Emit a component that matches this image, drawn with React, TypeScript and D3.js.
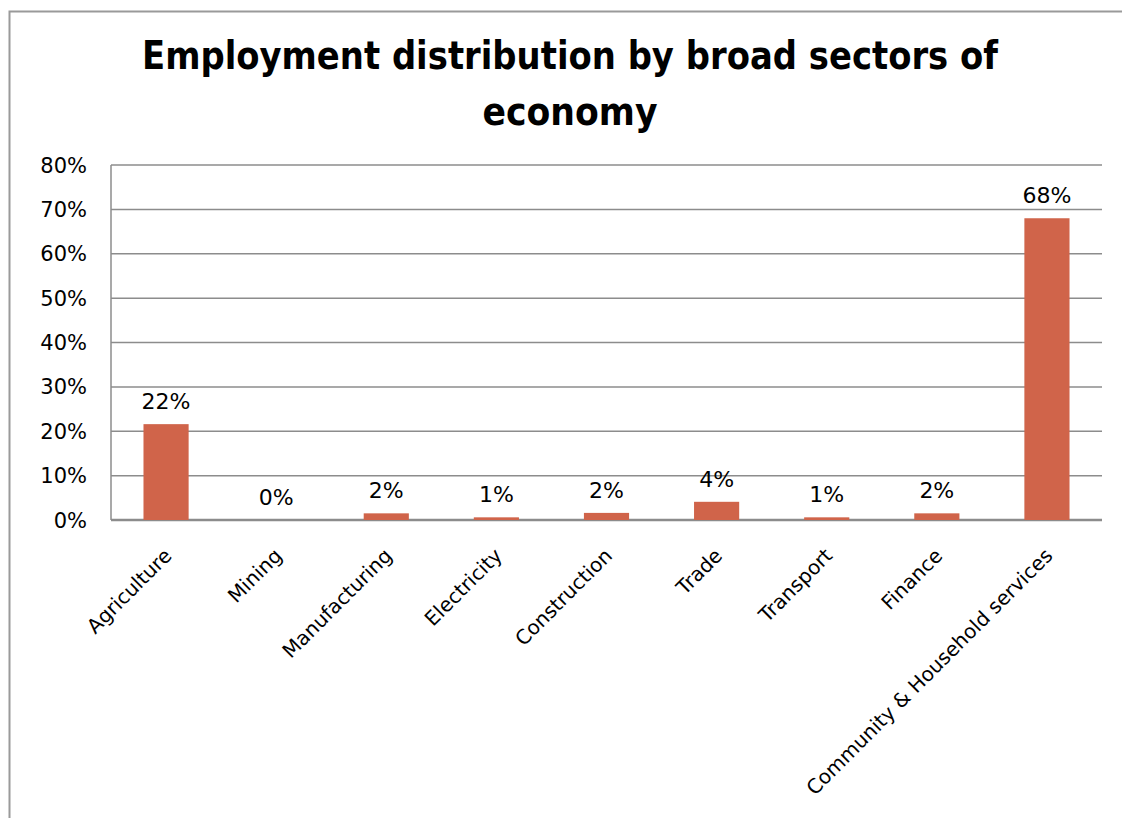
import React from "react";
import * as d3 from "d3";

const categories = ["Agriculture", "Mining", "Manufacturing", "Electricity", "Construction", "Trade", "Transport", "Finance", "Community & Household services"];
const values = [0.216, 0.0, 0.015, 0.006, 0.016, 0.041, 0.006, 0.015, 0.68];
const valueLabels = ["22%", "0%", "2%", "1%", "2%", "4%", "1%", "2%", "68%"];
const yTicks = [0, 0.1, 0.2, 0.3, 0.4, 0.5, 0.6, 0.7, 0.8];
const titleLines = ["Employment distribution by broad sectors of", "economy"];

const W = 1122, H = 818;
const plot = { left: 111, right: 1102, top: 165, bottom: 520 };
const FONT = "'DejaVu Sans', Verdana, sans-serif";

export default function App() {
  const x = d3.scaleBand<string>().domain(categories).range([plot.left, plot.right]).paddingInner(0.59).paddingOuter(0.295);
  const y = d3.scaleLinear().domain([0, 0.8]).range([plot.bottom, plot.top]);
  const fmt = d3.format(".0%");
  const grid = "#8c8c8c";
  return (
    <svg width={W} height={H} style={{ position: "absolute", left: 0, top: 0, background: "#fff" }} fontFamily={FONT}>
      <rect x={9.5} y={11.5} width={W + 10} height={H + 10} fill="#fff" stroke="#9a9a9a" strokeWidth={2} />
      <g transform="translate(570,69) scale(1,1.12)">
        <text x={0} y={0} textAnchor="middle" fontSize={35} fontWeight="bold" textLength={856} lengthAdjust="spacingAndGlyphs">{titleLines[0]}</text>
      </g>
      <g transform="translate(570,125) scale(1,1.12)">
        <text x={0} y={0} textAnchor="middle" fontSize={35} fontWeight="bold" textLength={175} lengthAdjust="spacingAndGlyphs">{titleLines[1]}</text>
      </g>
      {yTicks.map((t) => (
        <g key={t}>
          <line x1={plot.left} x2={plot.right} y1={y(t)} y2={y(t)} stroke={grid} strokeWidth={1.5} />
          <text x={87} y={y(t)} dy="0.36em" textAnchor="end" fontSize={21} fill="#000">{fmt(t)}</text>
        </g>
      ))}
      <line x1={plot.left} x2={plot.left} y1={plot.top} y2={plot.bottom} stroke={grid} strokeWidth={1.5} />
      <line x1={plot.left} x2={plot.right} y1={plot.bottom} y2={plot.bottom} stroke={grid} strokeWidth={2.5} />
      {categories.map((c, i) => {
        const bx = x(c)!;
        const bw = x.bandwidth();
        const cx = bx + bw / 2;
        return (
          <g key={c}>
            <rect x={bx} y={y(values[i])} width={bw} height={plot.bottom - y(values[i])} fill="#D0644A" />
            <text x={cx} y={y(values[i]) - 15} textAnchor="middle" fontSize={22} fill="#000">{valueLabels[i]}</text>
            <text transform={`translate(${cx + 2},${plot.bottom + 32}) rotate(-45)`} textAnchor="end" fontSize={20} fill="#000" dy="0.35em">{c}</text>
          </g>
        );
      })}
    </svg>
  );
}
